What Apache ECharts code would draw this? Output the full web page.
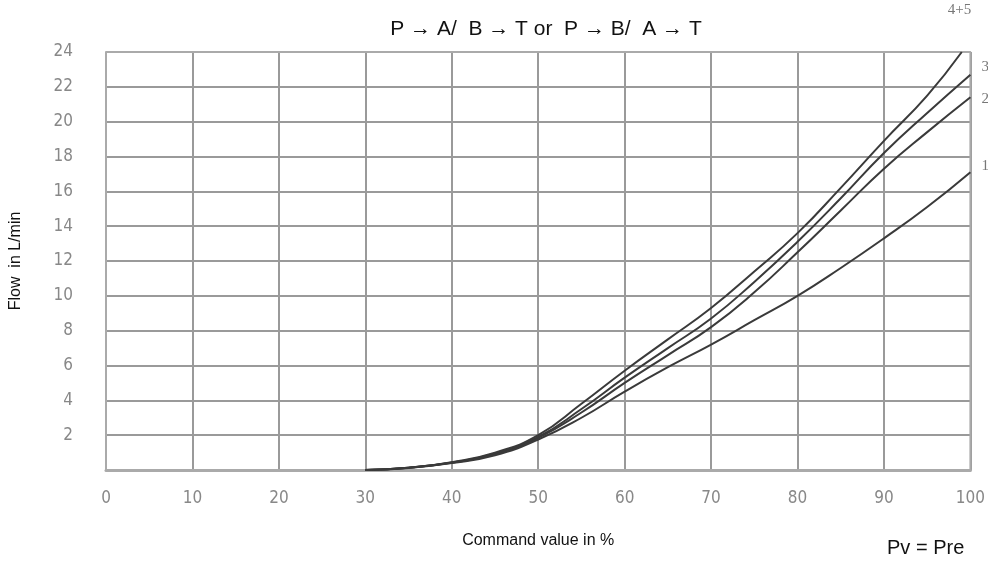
<!DOCTYPE html>
<html>
<head>
<meta charset="utf-8">
<script src="https://cdn.jsdelivr.net/npm/echarts@6/dist/echarts.min.js"></script>
<style>
html,body{margin:0;padding:0;background:#fff;}
#chart{width:988px;height:567px;}
</style>
</head>
<body>
<div id="chart"></div>
<script>
const commandValues = [30, 35, 40, 45, 50, 55, 60, 65, 70, 75, 80, 85, 90, 95, 99];
const commandValues100 = [30, 35, 40, 45, 50, 55, 60, 65, 70, 75, 80, 85, 90, 95, 100];
const flow45 = [0, 0.13, 0.45, 1.0, 2.0, 3.8, 5.7, 7.5, 9.3, 11.4, 13.6, 16.2, 18.9, 21.5, 24.0];
const flow3  = [0, 0.13, 0.43, 0.95, 1.9, 3.5, 5.3, 7.0, 8.7, 10.8, 13.1, 15.6, 18.2, 20.5, 22.7];
const flow2  = [0, 0.13, 0.42, 0.9, 1.85, 3.3, 5.0, 6.6, 8.2, 10.2, 12.5, 14.9, 17.3, 19.4, 21.4];
const flow1  = [0, 0.12, 0.4, 0.85, 1.75, 3.0, 4.5, 5.9, 7.2, 8.6, 10.0, 11.6, 13.3, 15.1, 17.1];
const curveNames = ['4+5', '3', '2', '1'];
const xTicks = [0, 10, 20, 30, 40, 50, 60, 70, 80, 90, 100];
const yTicks = [2, 4, 6, 8, 10, 12, 14, 16, 18, 20, 22, 24];

const pair = (xs, ys) => xs.map((x, i) => [x, ys[i]]);
const lineColor = '#3a3a3a';
const gridColor = '#9a9a9a';
const labelFont = '"Liberation Sans Narrow", "DejaVu Sans Condensed", sans-serif';

function mk(name, data, off) {
  return {
    name: name, type: 'line', smooth: 0.5, showSymbol: false, data: data,
    lineStyle: {color: lineColor, width: 2}, clip: false,
    endLabel: {show: true, formatter: name, color: '#777', fontSize: 15,
      fontFamily: '"Liberation Serif", serif', offset: off}
  };
}

const chart = echarts.init(document.getElementById('chart'));
chart.setOption({
  animation: false,
  backgroundColor: '#fff',
  title: {
    text: 'P → A/  B → T or  P → B/  A → T',
    left: 541, top: 14, textAlign: 'center',
    textStyle: {fontFamily: '"Liberation Sans", Arial, sans-serif', fontSize: 21, fontWeight: 'normal', color: '#111'}
  },
  grid: {left: 105, right: 15, top: 52, bottom: 97},
  xAxis: {
    type: 'value', min: 0, max: 100, interval: 10,
    name: 'Command value in %', nameLocation: 'middle', nameGap: 63,
    nameTextStyle: {fontFamily: '"Liberation Sans", Arial, sans-serif', fontSize: 16, color: '#111'},
    axisLine: {show: true, lineStyle: {color: '#aaa', width: 3}},
    axisTick: {show: false},
    axisLabel: {color: '#888', fontSize: 17, fontFamily: labelFont, margin: 20,
      formatter: v => xTicks.includes(v) ? String(v) : ''},
    splitLine: {show: true, lineStyle: {color: gridColor, width: 2}}
  },
  yAxis: {
    type: 'value', min: 0, max: 24, interval: 2,
    name: 'Flow  in L/min', nameLocation: 'middle', nameGap: 82, nameRotate: 90,
    nameTextStyle: {fontFamily: '"Liberation Sans", Arial, sans-serif', fontSize: 16, color: '#111'},
    axisLine: {show: true, lineStyle: {color: '#aaa', width: 2}},
    axisTick: {show: false},
    axisLabel: {color: '#888', fontSize: 17, fontFamily: labelFont, margin: 33,
      formatter: v => yTicks.includes(v) ? String(v) : ''},
    splitLine: {show: true, lineStyle: {color: gridColor, width: 2}}
  },
  series: [
    mk(curveNames[0], pair(commandValues, flow45), [-22, -42]),
    mk(curveNames[1], pair(commandValues100, flow3), [3, -8]),
    mk(curveNames[2], pair(commandValues100, flow2), [3, 2]),
    mk(curveNames[3], pair(commandValues100, flow1), [3, -6]),
    {type: 'line', data: [[100, 0], [100, 24], [0, 24]], showSymbol: false, silent: true,
     lineStyle: {color: '#aaa', width: 2}, z: 1}
  ],
  graphic: [
    {type: 'text', left: 887, top: 538,
     style: {text: 'Pv = Pre', fontFamily: '"Liberation Sans", Arial, sans-serif', fontSize: 20, fill: '#111'}}
  ]
});
</script>
</body>
</html>
